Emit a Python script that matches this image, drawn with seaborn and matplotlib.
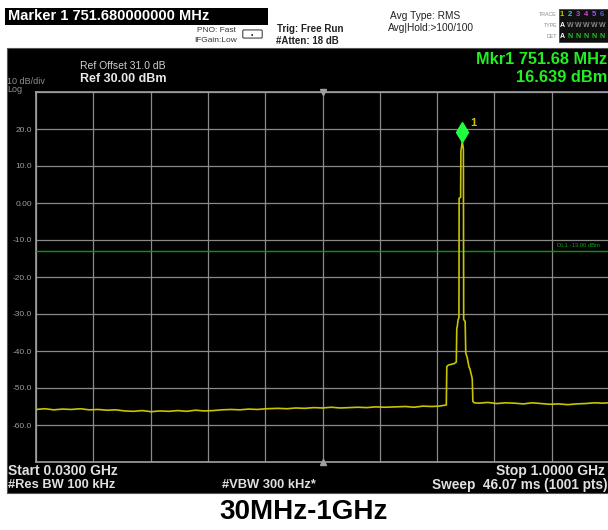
import matplotlib
matplotlib.use("Agg")
import matplotlib.pyplot as plt
import matplotlib.transforms as mtransforms
from matplotlib.patches import Rectangle, FancyBboxPatch
import numpy as np
import seaborn as sns

# Dark look for the analyzer screen
sns.set_style("dark")
plt.rcParams['font.family'] = ['Liberation Sans', 'DejaVu Sans']

# Sweep settings (MHz / dBm)
freq_start = 30.0
freq_stop = 1000.0
ref_level = 30.0
db_per_div = 10.0
display_line = -13.0

y_ticks = [30, 20, 10, 0, -10, -20, -30, -40, -50, -60, -70]
y_tick_labels = ['', '20.0', '10.0', '0.00', '-10.0', '-20.0', '-30.0', '-40.0', '-50.0', '-60.0', '']

# Trace 1
trace_freq = [30, 45, 60, 75, 90, 105, 120, 135, 150, 165, 180, 195, 210, 225, 240, 255,
              270, 285, 300, 315, 330, 345, 360, 375, 390, 405, 420, 440, 455, 470, 485,
              500, 515, 530, 545, 560, 575, 590, 605, 620, 640, 655, 670, 685, 700, 713,
              720, 724.6,
              725.4, 728, 733, 738, 741.5, 742.3, 743.5, 744.4, 746.0, 746.3, 748.8, 749.3,
              751.68, 753.5, 754.0, 756.5, 757.5, 760, 763, 764.5, 767.5, 768.5, 769.5,
              772, 780, 795, 810, 825, 840, 855, 870, 885, 900, 915, 930, 945, 960, 975,
              990, 1000]
trace_dbm = [-55.8, -55.6, -55.9, -55.7, -55.8, -55.6, -55.9, -55.8, -56.0, -55.9, -56.2,
             -56.3, -56.1, -56.4, -56.2, -56.3, -56.1, -56.3, -56.0, -56.2, -56.1, -55.9,
             -55.8, -55.9, -55.7, -55.8, -55.6, -55.5, -55.6, -55.4, -55.5, -55.3, -55.4,
             -55.2, -55.4, -55.3, -55.2, -55.3, -55.1, -55.2, -55.1, -55.0, -55.2, -54.9,
             -55.0, -54.9, -54.7, -54.6,
             -44.2, -43.8, -43.6, -43.4, -43.0, -34.0, -33.0, -31.6, -31.0, 1.3, 1.5, 14.0,
             16.639, 14.5, -31.5, -32.0, -40.5, -41.8, -44.3, -44.8, -46.8, -47.5, -53.6,
             -54.0, -54.1, -53.9, -54.2, -54.0, -54.1, -54.3, -54.0, -54.2, -54.4, -54.3,
             -54.5, -54.3, -54.2, -54.0, -54.1, -54.0]

marker_freq = 751.68
marker_dbm = 16.639

W, H = 608, 530
fig = plt.figure(figsize=(W / 100, H / 100), dpi=100, facecolor='white')


def fx(x):
    return x / W


def fy(y):
    return 1 - y / H


# black screen area
fig.add_artist(Rectangle((fx(7), fy(493)), 1 - fx(7), fy(48) - fy(493),
                         transform=fig.transFigure, facecolor='black', edgecolor='#555555', lw=0.8, zorder=0))
# marker readout box in the header
fig.add_artist(Rectangle((fx(5), fy(25)), fx(268) - fx(5), fy(8) - fy(25),
                         transform=fig.transFigure, facecolor='black', edgecolor='none', zorder=1))
# trace indicator box
fig.add_artist(Rectangle((fx(559), fy(42)), 1 - fx(559), fy(9) - fy(42),
                         transform=fig.transFigure, facecolor='#101010', edgecolor='#444444', lw=0.6, zorder=1))

ax = fig.add_axes([fx(36), fy(462), fx(609) - fx(36), fy(92) - fy(462)])
ax.set_facecolor('black')

sns.lineplot(x=trace_freq, y=trace_dbm, sort=False, estimator=None, color='#c8c400',
             lw=1.2, ax=ax, zorder=4)

ax.axhline(display_line, color='#00a000', lw=1.0, zorder=3)
ax.annotate('DL1 -13.00 dBm', (freq_stop, display_line), xytext=(-7, 2.5), textcoords='offset points',
            ha='right', va='bottom', fontsize=4.2, color='#00b000')

# marker diamond sits just above the trace point
mk_trans = mtransforms.offset_copy(ax.transData, fig=fig, x=0, y=6.5, units='points')
ax.plot([marker_freq], [marker_dbm], marker='d', ms=10, color='#20ff40', mec='#20ff40',
        transform=mk_trans, zorder=6)
ax.annotate('1', (marker_freq, marker_dbm), xytext=(6, 13), textcoords='offset points',
            fontsize=8, fontweight='bold', color='#c8c400', ha='left', va='center')

ax.set_xlim(freq_start, freq_stop)
ax.set_ylim(ref_level - 10 * db_per_div, ref_level)
ax.set_xticks(np.linspace(freq_start, freq_stop, 11))
ax.set_xticklabels([])
ax.set_yticks(y_ticks)
ax.set_yticklabels(y_tick_labels)
ax.tick_params(length=0, labelsize=6, labelcolor='#a0a0a0', pad=3)
ax.grid(True, color='#8a8a8a', lw=0.9)
for s in ax.spines.values():
    s.set_color('#a0a0a0')
    s.set_linewidth(1.2)
ax.set_xlabel('')
ax.set_ylabel('')

# center frequency ticks
fc = (freq_start + freq_stop) / 2
ax.plot([fc], [ref_level], marker='v', ms=4, color='#a0a0a0', clip_on=False, zorder=5)
ax.plot([fc], [ref_level - 10 * db_per_div], marker='^', ms=4, color='#a0a0a0', clip_on=False, zorder=5)

# header texts
fig.text(fx(8), fy(16.5), 'Marker 1 751.680000000 MHz', fontsize=10.5, fontweight='bold',
         color='white', va='center', ha='left')
fig.text(fx(197), fy(31), 'PNO: Fast', fontsize=6, color='#333333', va='center')
fig.text(fx(194), fy(41), 'IFGain:Low', fontsize=6, color='#333333', va='center')
fig.add_artist(FancyBboxPatch((fx(244), fy(37)), fx(17), fy(31) - fy(37), boxstyle='round,pad=0.002',
                              transform=fig.transFigure, facecolor='white', edgecolor='#444444', lw=0.8))
fig.text(fx(252), fy(35), '\u2022', fontsize=5, color='#222222', ha='center', va='center')
fig.text(fx(277), fy(29), 'Trig: Free Run', fontsize=7, color='#222222', va='center', fontweight='bold')
fig.text(fx(276), fy(40.5), '#Atten: 18 dB', fontsize=7, color='#222222', va='center', fontweight='bold')
fig.text(fx(390), fy(16), 'Avg Type: RMS', fontsize=7.3, color='#222222', va='center')
fig.text(fx(388), fy(28), 'Avg|Hold:>100/100', fontsize=7.3, color='#222222', va='center')

fig.text(fx(557), fy(14), 'TRACE', fontsize=3.8, color='#888888', ha='right', va='center')
fig.text(fx(557), fy(25.5), 'TYPE', fontsize=3.8, color='#888888', ha='right', va='center')
fig.text(fx(557), fy(37), 'DET', fontsize=3.8, color='#888888', ha='right', va='center')
trace_colors = ['#c8c400', '#20d0e0', '#c040ff', '#e040e0', '#a050ff', '#4060ff']
for i, c in enumerate(trace_colors):
    fig.text(fx(562 + 8 * i), fy(14), str(i + 1), fontsize=5.5, fontweight='bold', color=c,
             ha='center', va='center')
    fig.text(fx(562 + 8 * i), fy(25.5), 'A' if i == 0 else 'W', fontsize=5, fontweight='bold',
             color='white' if i == 0 else '#888888', ha='center', va='center')
    fig.text(fx(562 + 8 * i), fy(37), 'A' if i == 0 else 'N', fontsize=5, fontweight='bold',
             color='white' if i == 0 else '#20c020', ha='center', va='center')

# screen annotations
fig.text(fx(80), fy(66), 'Ref Offset 31.0 dB', fontsize=7.5, color='#d0d0d0', va='center')
fig.text(fx(80), fy(79), 'Ref 30.00 dBm', fontsize=9, fontweight='bold', color='#e8e8e8', va='center')
fig.text(fx(7), fy(82), '10 dB/div', fontsize=6.5, color='#909090', va='center')
fig.text(fx(7), fy(90), 'Log', fontsize=6.5, color='#909090', va='center')
fig.text(fx(607), fy(59), 'Mkr1 751.68 MHz', fontsize=11.8, fontweight='bold', color='#22ee22',
         ha='right', va='center')
fig.text(fx(607), fy(77), '16.639 dBm', fontsize=11.8, fontweight='bold', color='#22ee22',
         ha='right', va='center')

fig.text(fx(8), fy(471), 'Start 0.0300 GHz', fontsize=10, fontweight='bold', color='#e0e0e0', va='center')
fig.text(fx(605), fy(471), 'Stop 1.0000 GHz', fontsize=10, fontweight='bold', color='#e0e0e0',
         ha='right', va='center')
fig.text(fx(8), fy(485), '#Res BW 100 kHz', fontsize=9.3, fontweight='bold', color='#e0e0e0', va='center')
fig.text(fx(222), fy(485), '#VBW 300 kHz*', fontsize=9.3, fontweight='bold', color='#e0e0e0', va='center')
fig.text(fx(608), fy(485), 'Sweep  46.07 ms (1001 pts)', fontsize=9.8, fontweight='bold', color='#e0e0e0',
         ha='right', va='center')

fig.text(fx(304), fy(512), '30MHz-1GHz', fontsize=20, fontweight='bold', color='black',
         ha='center', va='center')

fig.savefig('out.png', dpi=100, facecolor='white')
